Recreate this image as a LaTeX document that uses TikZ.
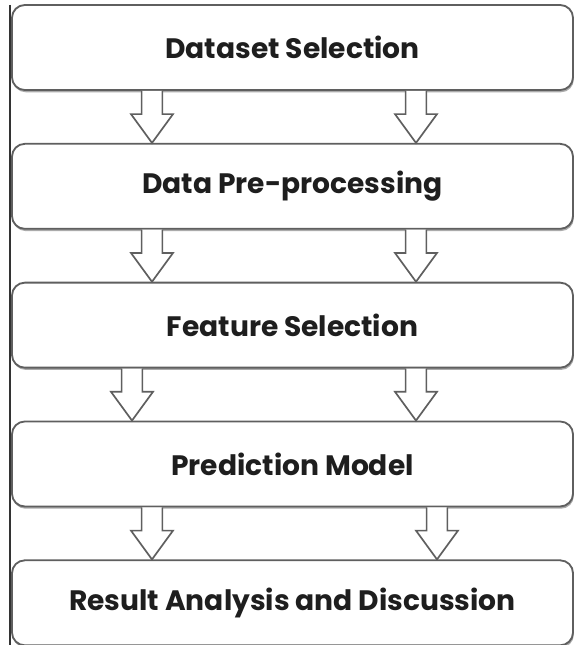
\documentclass[tikz,border=0pt]{standalone}
\usepackage{fontspec}
\setmainfont{Poppins}
\usetikzlibrary{positioning,calc,shadows}
\definecolor{linegray}{RGB}{95,95,95}
\definecolor{textgray}{RGB}{30,30,30}
\tikzset{
  stage/.style={draw=linegray, line width=1.3pt, rounded corners=0.32cm, fill=white,
    minimum width=14.025cm, minimum height=2.125cm, inner sep=0pt,
    font=\fontsize{20}{24}\selectfont\bfseries, text=textgray,
    drop shadow={shadow xshift=0.6pt, shadow yshift=-1.6pt, fill=black!65}},
  fatarrow/.style={draw=linegray, line width=1.2pt, fill=white, line join=miter,
    to path={let \p1=(\tikztostart), \p2=(\tikztotarget) in
      (\x1-0.26cm,\y1) -- (\x1-0.26cm,\y2+0.72cm) -- (\x1-0.525cm,\y2+0.72cm) -- (\x2,\y2)
      -- (\x1+0.525cm,\y2+0.72cm) -- (\x1+0.26cm,\y2+0.72cm) -- (\x1+0.26cm,\y1)}}
}
\begin{document}
\begin{tikzpicture}
\useasboundingbox (0,0) rectangle (14.4,-16.125);
\fill[white] (0,0) rectangle (14.4,-16.125);
\draw[line width=1.1pt, black!80] (0.25,-0.12) -- (0.25,-16.125);
\node[stage] (b1) at (7.3125,-1.1875) {Dataset Selection};
\node[stage, below=1.3cm of b1] (b2) {Data Pre-processing};
\node[stage, below=1.3cm of b2] (b3) {Feature Selection};
\node[stage, below=1.3cm of b3] (b4) {Prediction Model};
\node[stage, below=1.3cm of b4] (b5) {Result Analysis and Discussion};
\draw[fatarrow] (b1.south -| 3.8,0) to (b2.north -| 3.8,0);
\draw[fatarrow] (b1.south -| 10.4,0) to (b2.north -| 10.4,0);
\draw[fatarrow] (b2.south -| 3.8,0) to (b3.north -| 3.8,0);
\draw[fatarrow] (b2.south -| 10.4,0) to (b3.north -| 10.4,0);
\draw[fatarrow] (b3.south -| 3.3,0) to (b4.north -| 3.3,0);
\draw[fatarrow] (b3.south -| 10.4,0) to (b4.north -| 10.4,0);
\draw[fatarrow] (b4.south -| 3.8,0) to (b5.north -| 3.8,0);
\draw[fatarrow] (b4.south -| 10.925,0) to (b5.north -| 10.925,0);
\end{tikzpicture}
\end{document}
